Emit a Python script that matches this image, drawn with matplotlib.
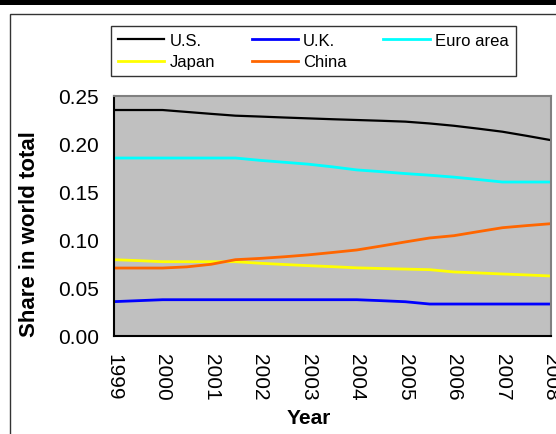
import matplotlib.pyplot as plt
import matplotlib.patches as patches
import matplotlib.ticker as ticker

plt.rcParams['font.family'] = ['Liberation Sans', 'DejaVu Sans']

# half-year observations, 1999 to 2008
years = [1999, 1999.5, 2000, 2000.5, 2001, 2001.5, 2002, 2002.5, 2003, 2003.5,
         2004, 2004.5, 2005, 2005.5, 2006, 2006.5, 2007, 2007.5, 2008]
us = [0.2354, 0.2354, 0.2354, 0.2334, 0.2314, 0.2295, 0.2286, 0.2276, 0.2267, 0.2258,
      0.2250, 0.2242, 0.2233, 0.2214, 0.2190, 0.2160, 0.2128, 0.2085, 0.2040]
uk = [0.0358, 0.0368, 0.0378, 0.0378, 0.0378, 0.0378, 0.0378, 0.0378, 0.0378, 0.0378,
      0.0378, 0.0368, 0.0357, 0.0333, 0.0333, 0.0333, 0.0333, 0.0333, 0.0333]
euro = [0.1854, 0.1854, 0.1854, 0.1854, 0.1854, 0.1854, 0.1830, 0.1810, 0.1790, 0.1762,
        0.1730, 0.1712, 0.1692, 0.1675, 0.1655, 0.1630, 0.1604, 0.1604, 0.1604]
japan = [0.0795, 0.0785, 0.0774, 0.0774, 0.0774, 0.0774, 0.0758, 0.0745, 0.0733, 0.0722,
         0.0710, 0.0703, 0.0697, 0.0691, 0.0667, 0.0657, 0.0646, 0.0636, 0.0625]
china = [0.0708, 0.0708, 0.0708, 0.0720, 0.0747, 0.0795, 0.0808, 0.0825, 0.0845, 0.0870,
         0.0896, 0.0937, 0.0980, 0.1021, 0.1045, 0.1087, 0.1128, 0.1150, 0.1170]
year_labels = ['1999', '2000', '2001', '2002', '2003', '2004', '2005', '2006', '2007', '2008']

fig = plt.figure(figsize=(5.56, 4.35), dpi=100)

# outer frame and the heavy rule at the top
fig.patches.append(patches.Rectangle((0, 1 - 5.5 / 435), 1, 5.5 / 435, transform=fig.transFigure,
                                     facecolor='black', edgecolor='none'))
fig.patches.append(patches.Rectangle((10 / 556, -0.1), 1.2, 1 - 15 / 435 + 0.1, transform=fig.transFigure,
                                     facecolor='none', edgecolor='#333333', lw=1))

ax = fig.add_axes([114 / 556, 98 / 435, 437 / 556, 240 / 435])
ax.set_facecolor('#C0C0C0')

l_us, = ax.plot(years, us, color='black', lw=1.6)
l_uk, = ax.plot(years, uk, color='#0000FF', lw=2)
l_eu, = ax.plot(years, euro, color='#00FFFF', lw=2)
l_jp, = ax.plot(years, japan, color='#FFFF00', lw=2)
l_cn, = ax.plot(years, china, color='#FF6600', lw=2)

ax.set_xlim(1999, 2008)
ax.set_ylim(0, 0.25)
ax.yaxis.set_major_locator(ticker.MultipleLocator(0.05))
ax.yaxis.set_major_formatter(ticker.FormatStrFormatter('%.2f'))
ax.set_xticks([int(y) for y in year_labels])
ax.set_xticklabels(year_labels, rotation=-90, va='top', ha='center')
ax.tick_params(axis='both', length=0, labelsize=15)
ax.tick_params(axis='y', pad=11)
ax.tick_params(axis='x', pad=12)

for side in ['top', 'right']:
    ax.spines[side].set_color('#808080')
    ax.spines[side].set_linewidth(1.5)
for side in ['left', 'bottom']:
    ax.spines[side].set_color('black')
    ax.spines[side].set_linewidth(1.5)

ax.set_xlabel('Year', fontsize=15, fontweight='bold')
ax.xaxis.set_label_coords(0.446, -0.30)
ax.set_ylabel('Share in world total', fontsize=16, fontweight='bold')
ax.yaxis.set_label_coords(-0.17, 0.427)

# row-major order: U.S., U.K., Euro area / Japan, China
leg = fig.legend([l_us, l_jp, l_uk, l_cn, l_eu], ['U.S.', 'Japan', 'U.K.', 'China', 'Euro area'],
                 ncol=3, loc='upper left', bbox_to_anchor=(111 / 556, 1 - 27 / 435),
                 fontsize=12, frameon=True, fancybox=False, edgecolor='black',
                 handlelength=2.8, handletextpad=0.3, columnspacing=2.2,
                 labelspacing=0.4, borderpad=0.4, borderaxespad=0)
leg.get_frame().set_linewidth(1)

plt.savefig('out.png', dpi=100)
